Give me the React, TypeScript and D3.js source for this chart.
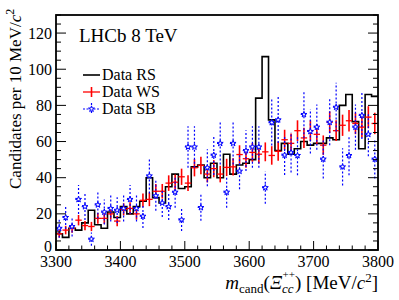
import * as d3 from "d3";

// 10 MeV bins from 3300 to 3800
const binLow = d3.range(3300, 3800, 10);

const dataRS = [9, 7, 12, 11, 15, 22, 14, 12, 21, 18, 24, 20, 24, 27, 40, 29, 26, 35, 42, 34,
  35, 46, 47, 40, 48, 40, 53, 42, 47, 48, 50, 84, 107, 72, 55, 59, 53, 56, 60, 58,
  59, 59, 62, 61, 80, 86, 71, 56, 86, 85];

const dataWS = [9, 11, 12, 16.5, 13.5, 13, 17.5, 17.5, 20, 16, 22.5, 23, 20, 27.5, 28, 32.5, 32.5, 37, 37.5, 40.5,
  37, 45.5, 46.8, 42, 45, 42, 45.7, 46, 52.8, 50.5, 54, 53, 54.3, 52.3, 54.6, 61, 59, 66, 62, 66,
  64, 58, 70.7, 66, 69, 71.5, 70, 68, 73.5, 70];

const dataSB = [12, 18, 13, 28, 24, 6, 25, 21, 23, 22, 23, 28, 23, 18.7, 41, 30, 26, 24, 32, 16.7,
  57, 57, 23.5, 45.5, 52.5, 59, 32, 59, 43.6, 55, 57, 57, 34.5, 70.5, 72, 52.5, 54, 52.3, 75, 65.6,
  68, 50.3, 70.7, 79, 46, 52.3, 68, 74.5, 64, 50.3];

const xTicks = [3300, 3400, 3500, 3600, 3700, 3800];
const yTicks = [0, 20, 40, 60, 80, 100, 120];

// scaled Poisson uncertainties (WS and SB samples are normalised)
const errWS = (v: number) => Math.sqrt(0.5 * v);
const errSB = (v: number) => Math.sqrt(2.3 * v);

const FONT = "'Liberation Serif', 'Times New Roman', serif";

const App: React.FC = () => {
  const width = 399;
  const height = 300;
  const x = d3.scaleLinear([3300, 3800], [56, 378]);
  const y = d3.scaleLinear([0, 130], [250, 15]);

  const stepPts: [number, number][] = binLow.map((b, i) => [b, dataRS[i]]);
  stepPts.push([3800, dataRS[dataRS.length - 1]]);
  const step = d3.line<[number, number]>(d => x(d[0]), d => y(d[1])).curve(d3.curveStepAfter);

  const star = d3.symbol().type(d3.symbolStar).size(11)() ?? undefined;

  const xMinor = d3.range(3300, 3801, 20);
  const yMinor = d3.range(0, 131, 5);

  return (
    <svg width={width} height={height} style={{ position: "absolute", left: 0, top: 0, background: "white" }}
      fontFamily={FONT}>
      {/* RS histogram */}
      <path d={step(stepPts) ?? undefined} fill="none" stroke="black" strokeWidth={1.6} />

      {/* WS points */}
      <g stroke="red" strokeWidth={1.3}>
        {binLow.map((b, i) => {
          const v = dataWS[i];
          const e = errWS(v);
          return (
            <g key={i}>
              <line x1={x(b + 5)} x2={x(b + 5)} y1={y(v - e)} y2={y(v + e)} strokeWidth={1.6} />
              <line x1={x(b)} x2={x(b + 10)} y1={y(v)} y2={y(v)} />
            </g>
          );
        })}
      </g>

      {/* SB points */}
      <g stroke="blue" strokeWidth={1.2}>
        {binLow.map((b, i) => {
          const v = dataSB[i];
          const e = errSB(v);
          return (
            <g key={i}>
              <line x1={x(b + 5)} x2={x(b + 5)} y1={y(v - e)} y2={y(v + e)} strokeDasharray="2,2" />
              <line x1={x(b)} x2={x(b + 10)} y1={y(v)} y2={y(v)} strokeDasharray="2,1.5" />
              <path d={star} transform={`translate(${x(b + 5)},${y(v)})`} fill="white" strokeWidth={1} />
            </g>
          );
        })}
      </g>

      {/* frame */}
      <rect x={x(3300)} y={y(130)} width={x(3800) - x(3300)} height={y(0) - y(130)}
        fill="none" stroke="black" strokeWidth={1.8} />

      {/* ticks */}
      <g stroke="black" strokeWidth={1}>
        {xMinor.map(t => {
          const major = t % 100 === 0;
          return <line key={t} x1={x(t)} x2={x(t)} y1={y(0)} y2={y(0) - (major ? 9 : 4.5)} />;
        })}
        {yMinor.map(t => {
          const major = t % 20 === 0;
          const len = major ? 10 : 5;
          return (
            <g key={t}>
              <line x1={x(3300)} x2={x(3300) + len} y1={y(t)} y2={y(t)} />
              <line x1={x(3800)} x2={x(3800) - len} y1={y(t)} y2={y(t)} />
            </g>
          );
        })}
      </g>

      {/* tick labels */}
      <g fontSize={16} fill="black">
        {xTicks.map(t => (
          <text key={t} x={x(t)} y={267} textAnchor="middle">{t}</text>
        ))}
        {yTicks.map(t => (
          <text key={t} x={52} y={y(t) + (t === 0 ? 1.5 : 5.5)} textAnchor="end">{t}</text>
        ))}
      </g>

      {/* axis titles */}
      <text x={378} y={289} textAnchor="end" fontSize={19}>
        <tspan fontStyle="italic">m</tspan>
        <tspan fontSize={13} dy={4}>cand</tspan>
        <tspan dy={-4}>(</tspan>
        <tspan fontStyle="italic">Ξ</tspan>
        <tspan fontSize={13} fontStyle="italic" dy={4}>cc</tspan>
        <tspan fontSize={11} dx={-11} dy={-15}>++</tspan>
        <tspan dy={11}>) [MeV/</tspan>
        <tspan fontStyle="italic">c</tspan>
        <tspan fontSize={13} dy={-7}>2</tspan>
        <tspan dy={7}>]</tspan>
      </text>
      <text transform="translate(21,189) rotate(-90)" fontSize={17} textAnchor="start">
        <tspan>Candidates per 10 MeV/</tspan>
        <tspan fontStyle="italic">c</tspan>
        <tspan fontSize={12} dy={-7}>2</tspan>
      </text>

      {/* label */}
      <text x={79} y={42} fontSize={19}>LHCb 8 TeV</text>

      {/* legend */}
      <g fontSize={16}>
        <line x1={83} x2={100} y1={75} y2={75} stroke="black" strokeWidth={1.6} />
        <text x={102} y={80}>Data RS</text>
        <line x1={83} x2={100} y1={92} y2={92} stroke="red" strokeWidth={1.3} />
        <line x1={91.5} x2={91.5} y1={87} y2={97} stroke="red" strokeWidth={1.6} />
        <text x={102} y={97}>Data WS</text>
        <line x1={83} x2={100} y1={109} y2={109} stroke="blue" strokeWidth={1.2} strokeDasharray="2,1.5" />
        <line x1={91.5} x2={91.5} y1={103} y2={115} stroke="blue" strokeWidth={1.2} strokeDasharray="2,2" />
        <path d={star} transform="translate(91.5,109)" fill="white" stroke="blue" strokeWidth={1} />
        <text x={102} y={114}>Data SB</text>
      </g>
    </svg>
  );
};

export default App;
